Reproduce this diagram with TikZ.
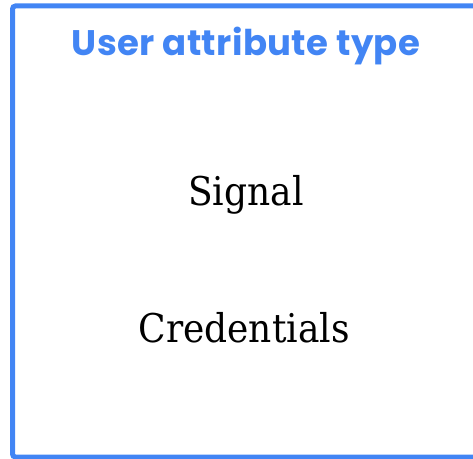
\documentclass[tikz,border=0pt]{standalone}
\usepackage{fontspec}
\setmainfont{DejaVu Serif}
\newfontfamily\titlefont[LetterSpace=1]{Poppins}
\definecolor{gblue}{HTML}{4285F4}
\newcommand{\tallword}[1]{\scalebox{1}[1.1]{#1}}
\begin{document}
\begin{tikzpicture}[x=1pt,y=1pt,
  frame/.style={draw=gblue,line width=5pt,rounded corners=3pt},
  heading/.style={anchor=base,text=gblue,inner sep=0pt,font=\titlefont\bfseries\fontsize{35.5}{36}\selectfont},
  item/.style={anchor=base,text=black,inner sep=0pt,font=\fontsize{36}{36}\selectfont}]
  \useasboundingbox (0,0) rectangle (473,458);
  \clip (0,0) rectangle (473,458);
  % outer frame, running past the right and bottom edges
  \draw[frame] (12.5,1) rectangle (485,452);
  \node[heading] (title) at (246,402) {User attribute type};
  \node[item] (signal) at (246,252) {\tallword{Signal}};
  \node[item] (cred) at (244,116) {\tallword{Credentials}};
\end{tikzpicture}
\end{document}
